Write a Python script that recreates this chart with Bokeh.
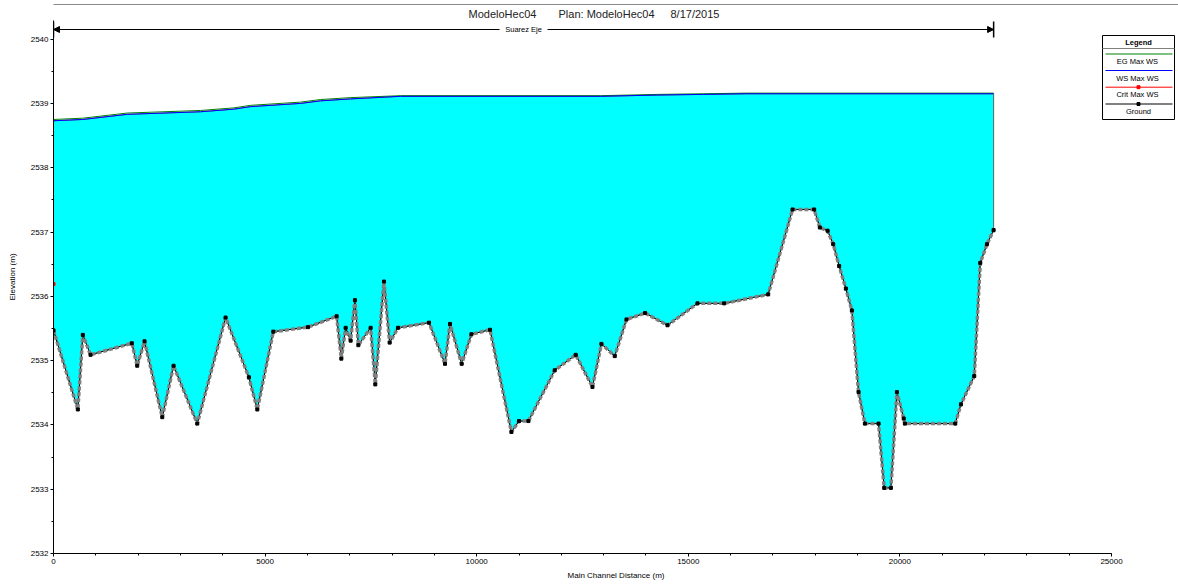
import numpy as np
from bokeh.plotting import figure
from bokeh.models import Range1d, Arrow, NormalHead, SingleIntervalTicker
from bokeh.core.properties import value
from bokeh.embed import file_html
from bokeh.resources import INLINE

# ---------------- data ----------------
title_parts = ["ModeloHec04", "Plan: ModeloHec04", "8/17/2015"]
reach_name = "Suarez Eje"
x_label = "Main Channel Distance (m)"
y_label = "Elevation (m)"
legend_title = "Legend"
legend_labels = ["EG  Max WS", "WS  Max WS", "Crit  Max WS", "Ground"]

ground_station = [0, 575, 693, 875, 1851, 1978, 2151, 2570, 2837, 3397, 4066, 4617, 4816,
                  5193, 6013, 6690, 6801, 6903, 7021, 7123, 7203, 7494, 7604, 7809, 7943,
                  8139, 8873, 9251, 9369, 9645, 9875, 10315, 10820, 11000, 11222, 11844,
                  12340, 12735, 12947, 13262, 13539, 13979, 14508, 15217, 15847, 16887,
                  17463, 17974, 18109, 18291, 18424, 18565, 18723, 18865, 19023, 19173,
                  19496, 19629, 19787, 19929, 20090, 20118, 21308, 21442, 21757, 21899,
                  22057, 22215]
ground_elev = [2535.47, 2534.24, 2535.40, 2535.09, 2535.27, 2534.92, 2535.30, 2534.12,
               2534.92, 2534.02, 2535.67, 2534.74, 2534.24, 2535.45, 2535.52, 2535.69,
               2535.03, 2535.51, 2535.31, 2535.94, 2535.24, 2535.51, 2534.63, 2536.23,
               2535.28, 2535.51, 2535.59, 2534.95, 2535.57, 2534.95, 2535.41, 2535.48,
               2533.89, 2534.06, 2534.06, 2534.85, 2535.09, 2534.59, 2535.26, 2535.07,
               2535.64, 2535.74, 2535.55, 2535.89, 2535.89, 2536.03, 2537.35, 2537.35,
               2537.07, 2537.02, 2536.81, 2536.47, 2536.12, 2535.78, 2534.51, 2534.02,
               2534.02, 2533.02, 2533.02, 2534.51, 2534.10, 2534.02, 2534.02, 2534.32,
               2534.76, 2536.52, 2536.81, 2537.03]

ws_station = [0, 690, 1742, 3475, 4255, 4657, 5839, 6312, 7021, 8203, 12931, 14272,
              15366, 16359, 22215]
ws_elev = [2538.73, 2538.75, 2538.83, 2538.87, 2538.91, 2538.95, 2539.00, 2539.04,
           2539.07, 2539.11, 2539.11, 2539.13, 2539.14, 2539.15, 2539.15]
eg_station = [0, 690, 1742, 3475, 4255, 4657, 5839, 6312, 7021, 8203, 12931, 14272,
              15366, 16359, 22215]
eg_elev = [2538.75, 2538.77, 2538.85, 2538.89, 2538.93, 2538.97, 2539.02, 2539.06,
           2539.09, 2539.12, 2539.12, 2539.14, 2539.15, 2539.16, 2539.16]
crit_station = [0]
crit_elev = [2536.19]

# ---------------- layout ----------------
W, H = 1178, 584
ML, MB = 53, 31
FW, FH = W - ML, H - MB
PX_PER_M = 0.04232
PX_PER_EL = 64.3
X_END = FW / PX_PER_M
Y0 = 2532.0
Y_END = Y0 + FH / PX_PER_EL
PAGE_L, PAGE_B = ML, FH


def gx(px):
    return (px - PAGE_L) / PX_PER_M


def gy(py):
    return Y0 + (PAGE_B - py) / PX_PER_EL


FONT = value("Liberation Sans")

p = figure(width=W, height=H, x_range=Range1d(0, X_END), y_range=Range1d(Y0, Y_END),
           output_backend="svg", toolbar_location=None,
           min_border_left=ML, min_border_right=0, min_border_top=0, min_border_bottom=MB)
p.outline_line_color = None
p.grid.visible = False
p.background_fill_color = "white"

p.xaxis.ticker = SingleIntervalTicker(interval=5000, num_minor_ticks=5)
p.yaxis.ticker = SingleIntervalTicker(interval=1, num_minor_ticks=2)
p.xaxis.bounds = (0, 25000)
p.yaxis.bounds = (Y0, gy(20))
p.xaxis.axis_label = x_label
p.yaxis.axis_label = y_label
for ax in (p.xaxis, p.yaxis):
    ax.axis_line_color = "black"
    ax.major_tick_line_color = "black"
    ax.minor_tick_line_color = "black"
    ax.major_tick_in = 0
    ax.major_tick_out = 3
    ax.minor_tick_in = 0
    ax.minor_tick_out = 2
    ax.major_label_text_font = "Liberation Sans"
    ax.major_label_text_font_size = "8px"
    ax.major_label_text_color = "black"
    ax.axis_label_text_font = "Liberation Sans"
    ax.axis_label_text_font_size = "8px"
    ax.axis_label_text_font_style = "normal"
    ax.axis_label_text_color = "black"
    ax.major_label_standoff = 2
p.xaxis.axis_label_standoff = 4
p.yaxis.axis_label_standoff = 11

# outer frame line (top) inside plotting area
p.segment(x0=[gx(0)], x1=[gx(W)], y0=[gy(4)], y1=[gy(4)], line_color="#8a8a8a", line_width=1)

# water body
poly_x = list(ws_station) + list(ground_station[::-1])
poly_y = list(ws_elev) + list(ground_elev[::-1])
p.patch(poly_x, poly_y, fill_color="#00ffff", line_color="#606060", line_width=1)

# ground
p.line(ground_station, ground_elev, line_color="black", line_width=1)
p.line(ground_station, ground_elev, line_color="#808080", line_width=3.5, line_dash="4 2")
p.scatter(ground_station, ground_elev, marker="square", size=3, fill_color="black",
          line_color="black")

# EG and WS
p.line(eg_station, eg_elev, line_color="#008000", line_width=1)
p.line(ws_station, ws_elev, line_color="#0000ff", line_width=1)
p.scatter(crit_station, crit_elev, marker="square", size=3, fill_color="red", line_color="red")

# title
title_px = [468, 558, 670]
p.text(x=[gx(v) for v in title_px], y=[gy(13)] * 3, text=title_parts, text_font=FONT,
       text_font_size="11px", text_baseline="middle", text_align="left", text_color="#222222")

# reach line
REACH_Y = gy(29)
mid = (ground_station[0] + ground_station[-1]) / 2
gap = 24 / PX_PER_M
for xs, xe in ((mid - gap, ground_station[0]), (mid + gap, ground_station[-1])):
    p.add_layout(Arrow(end=NormalHead(size=6, fill_color="black", line_color="black"),
                       x_start=xs, x_end=xe, y_start=REACH_Y, y_end=REACH_Y,
                       line_color="black", line_width=1))
p.segment(x0=[ground_station[0], ground_station[-1]], x1=[ground_station[0], ground_station[-1]],
          y0=[gy(21)] * 2, y1=[gy(37)] * 2, line_color="black", line_width=1.5)
p.text(x=[mid], y=[REACH_Y], text=[reach_name], text_font=FONT, text_font_size="7.5px",
       text_baseline="middle", text_align="center", text_color="black")

# legend (manual)
LX0, LX1, LY0, LY1 = 1102, 1174, 35, 119
lcx = (LX0 + LX1) / 2
p.quad(left=[gx(LX0)], right=[gx(LX1)], top=[gy(LY0)], bottom=[gy(LY1)],
       fill_color="white", line_color="black", line_width=1)
p.text(x=[gx(lcx)], y=[gy(42)], text=[legend_title], text_font=FONT, text_font_size="7.5px",
       text_font_style="bold", text_baseline="middle", text_align="center", text_color="black")
p.segment(x0=[gx(LX0)], x1=[gx(LX1)], y0=[gy(48)], y1=[gy(48)], line_color="#808080", line_width=1)
line_py = [53.5, 70, 86.7, 103.5]
text_py = [61, 77.7, 94.3, 111]
lcolors = ["#008000", "#0000ff", "#ff0000", "black"]
for lp, c in zip(line_py, lcolors):
    p.segment(x0=[gx(LX0 + 3)], x1=[gx(LX1 - 2)], y0=[gy(lp)], y1=[gy(lp)],
              line_color=c, line_width=1)
p.scatter([gx(lcx)] * 2, [gy(line_py[2]), gy(line_py[3])], marker="square", size=3,
          fill_color=["red", "black"], line_color=["red", "black"])
p.text(x=[gx(lcx)] * 4, y=[gy(v) for v in text_py], text=legend_labels, text_font=FONT,
       text_font_size="7.5px", text_baseline="middle", text_align="center", text_color="black")

open("out.html", "w").write(file_html(p, INLINE))
